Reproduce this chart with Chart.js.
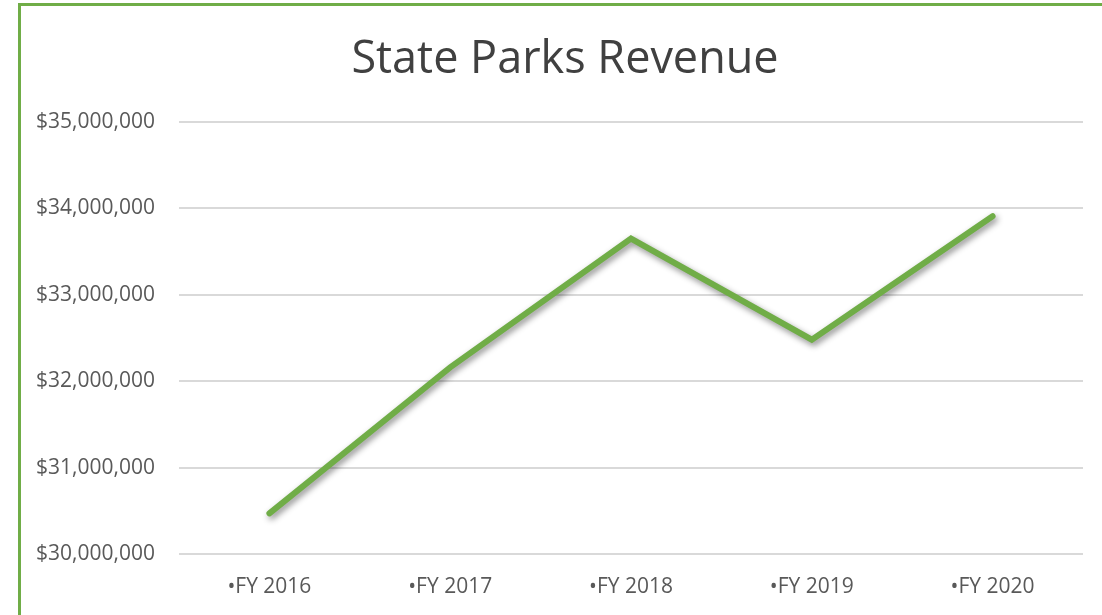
<!DOCTYPE html>
<html>
<head>
<meta charset="utf-8">
<script src="https://cdn.jsdelivr.net/npm/chart.js@4.4.0/dist/chart.umd.min.js"></script>
<style>
    html, body { margin: 0; padding: 0; background: #fff; overflow: hidden; }
    #frame {
        position: absolute; left: 18px; top: 3px; width: 1200px; height: 700px;
        border-left: 3px solid #70AD47; border-top: 3px solid #70AD47;
    }
    #wrap { position: absolute; left: 0; top: 0; width: 1102px; height: 615px; }
</style>
</head>
<body>
<div id="frame"></div>
<div id="wrap"><canvas id="revenueChart"></canvas></div>
<script>
// Data
const fiscalYears = ['•FY 2016', '•FY 2017', '•FY 2018', '•FY 2019', '•FY 2020'];
const revenue = [30470000, 32160000, 33650000, 32480000, 33910000];
const chartTitle = 'State Parks Revenue';

const lineGreen = '#70AD47';

// soft drop shadow under the line, like the office chart
const shadowPlugin = {
    id: 'lineShadow',
    beforeDatasetsDraw(chart) {
        const ctx = chart.ctx;
        ctx.save();
        ctx.shadowColor = 'rgba(0, 0, 0, 0.45)';
        ctx.shadowBlur = 6;
        ctx.shadowOffsetX = 2;
        ctx.shadowOffsetY = 3;
    },
    afterDatasetsDraw(chart) {
        chart.ctx.restore();
    }
};

// title centred on the outer frame rather than the canvas
const frameTitle = {
    id: 'frameTitle',
    afterDraw(chart) {
        const ctx = chart.ctx;
        ctx.save();
        ctx.font = 'normal 45px "Open Sans"';
        ctx.fillStyle = '#404040';
        ctx.textAlign = 'center';
        ctx.textBaseline = 'alphabetic';
        ctx.fillText(chartTitle, chart.width / 2 + 14, 73);
        ctx.restore();
    }
};

const ctx = document.getElementById('revenueChart').getContext('2d');
new Chart(ctx, {
    type: 'line',
    data: {
        labels: fiscalYears,
        datasets: [{
            label: 'Revenue',
            data: revenue,
            borderColor: lineGreen,
            borderWidth: 6,
            borderCapStyle: 'round',
            borderJoinStyle: 'miter',
            pointRadius: 0,
            tension: 0,
            fill: false
        }]
    },
    options: {
        responsive: true,
        maintainAspectRatio: false,
        animation: false,
        layout: {
            padding: { left: 0, right: 19, top: 122, bottom: 0 }
        },
        plugins: {
            legend: { display: false },
            tooltip: { enabled: false },
            title: { display: false }
        },
        scales: {
            x: {
                offset: true,
                grid: { display: false, drawTicks: false },
                border: { display: false },
                ticks: {
                    color: '#595959',
                    padding: 20,
                    maxRotation: 0,
                    font: { family: 'Open Sans', size: 21 }
                },
                afterFit(scale) { scale.height = 61; }
            },
            y: {
                min: 30000000,
                max: 35000000,
                grid: { color: '#D9D9D9', lineWidth: 2, drawTicks: false },
                border: { display: false },
                ticks: {
                    stepSize: 1000000,
                    color: '#595959',
                    padding: 24,
                    font: { family: 'Open Sans', size: 21 },
                    callback: value => '$' + value.toLocaleString('en-US')
                },
                afterFit(scale) { scale.width = 179; }
            }
        }
    },
    plugins: [shadowPlugin, frameTitle]
});
</script>
</body>
</html>
